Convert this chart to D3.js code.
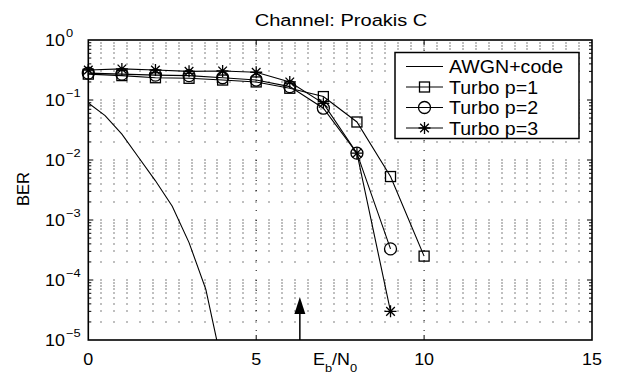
<!DOCTYPE html>
<html>
<head>
<meta charset="utf-8">
<script src="https://cdn.jsdelivr.net/npm/d3@7"></script>
<style>
  body { margin: 0; background: #fff; }
  svg { display: block; font-family: "Liberation Sans", Arial, sans-serif; }
</style>
</head>
<body>
<div id="chart"></div>
<script>
// data
const ebno = [0, 1, 2, 3, 4, 5, 6, 7, 8, 9, 10];
const awgnX = [0, 0.5, 1, 1.5, 2, 2.5, 3, 3.5, 4];
const awgnBer = [0.089, 0.055, 0.027, 0.011, 0.0045, 0.0017, 4.2e-4, 7e-5, 3.5e-6];
const turboP1 = [0.27, 0.255, 0.235, 0.23, 0.215, 0.2, 0.157, 0.114, 0.043, 0.0053, 2.5e-4];
const turboP2 = [0.28, 0.27, 0.26, 0.255, 0.235, 0.215, 0.167, 0.073, 0.013, 3.3e-4];
const turboP3 = [0.316, 0.33, 0.316, 0.30, 0.305, 0.29, 0.2, 0.088, 0.013, 3.0e-5];
const xTicks = [0, 5, 10, 15];
const yDecades = [0, -1, -2, -3, -4, -5];
const arrowX = 6.3;
const arrowTop = 5e-5;
const legendLabels = ["AWGN+code", "Turbo p=1", "Turbo p=2", "Turbo p=3"];

const W = 626, H = 374;
const m = { left: 88.3, right: 34, top: 40, bottom: 34 };
const sx = 1.12; // text in the reference is a bit stretched horizontally

const svg = d3.select("#chart").append("svg")
    .attr("width", W).attr("height", H);

const x = d3.scaleLinear().domain([0, 15]).range([m.left, W - m.right]);
const y = d3.scaleLog().domain([1e-5, 1]).range([H - m.bottom, m.top]);

const defs = svg.append("defs");
defs.append("clipPath").attr("id", "plotclip")
    .append("rect")
    .attr("x", x(0)).attr("y", y(1))
    .attr("width", x(15) - x(0)).attr("height", y(1e-5) - y(1));

// grid: dotted rows at every log step, columns every 5/13 of a unit
const gridCols = d3.range(1, 39).map(i => i * 5 / 13);
const gridRows = [];
for (let k = -5; k < 0; k++) {
    for (let j = 1; j <= 9; j++) {
        if (k === -5 && j === 1) continue;
        gridRows.push(j * Math.pow(10, k));
    }
}
const dots = [];
gridRows.forEach(r => gridCols.forEach(c => dots.push([c, r])));
svg.append("g").selectAll("rect").data(dots).join("rect")
    .attr("x", d => Math.round(x(d[0])) - 0.5)
    .attr("y", d => Math.round(y(d[1])) - 0.5)
    .attr("width", 1).attr("height", 1)
    .attr("fill", "#000");

svg.append("g").selectAll("line").data([5, 10]).join("line")
    .attr("x1", d => x(d)).attr("x2", d => x(d))
    .attr("y1", y(1)).attr("y2", y(1e-5))
    .attr("stroke", "#000").attr("stroke-width", 1)
    .attr("stroke-dasharray", "1,9");

// frame + ticks
svg.append("rect")
    .attr("x", x(0)).attr("y", y(1))
    .attr("width", x(15) - x(0)).attr("height", y(1e-5) - y(1))
    .attr("fill", "none").attr("stroke", "#000").attr("stroke-width", 1.6);

const ticks = svg.append("g").attr("stroke", "#000").attr("stroke-width", 1);
xTicks.slice(1, -1).forEach(t => {
    ticks.append("line").attr("x1", x(t)).attr("x2", x(t)).attr("y1", y(1e-5)).attr("y2", y(1e-5) - 5);
    ticks.append("line").attr("x1", x(t)).attr("x2", x(t)).attr("y1", y(1)).attr("y2", y(1) + 5);
});
gridRows.forEach(r => {
    const len = (Math.abs(Math.log10(r) - Math.round(Math.log10(r))) < 1e-9) ? 5 : 3;
    ticks.append("line").attr("x1", x(0)).attr("x2", x(0) + len).attr("y1", y(r)).attr("y2", y(r));
    ticks.append("line").attr("x1", x(15)).attr("x2", x(15) - len).attr("y1", y(r)).attr("y2", y(r));
});

// tick labels
svg.append("g").selectAll("text").data(xTicks).join("text")
    .attr("transform", d => `translate(${x(d)},365) scale(${sx},1)`)
    .attr("text-anchor", "middle")
    .attr("font-size", 16)
    .text(d => d);

const yl = svg.append("g").selectAll("text").data(yDecades).join("text")
    .attr("transform", d => `translate(45,${y(Math.pow(10, d)) + 5.5}) scale(${sx},1)`)
    .attr("font-size", 16);
yl.append("tspan").text("10");
yl.append("tspan").attr("dy", -9).attr("dx", 1).attr("font-size", 11.5)
    .text(d => d === 0 ? "0" : "\u2212" + Math.abs(d));

// title and axis labels
svg.append("text")
    .attr("transform", "translate(341,26) scale(1.18,1)")
    .attr("text-anchor", "middle").attr("font-size", 17)
    .text("Channel: Proakis C");

svg.append("text")
    .attr("transform", "translate(28.5,189) rotate(-90)")
    .attr("text-anchor", "middle").attr("font-size", 16.5)
    .text("BER");

const xl = svg.append("text")
    .attr("transform", `translate(313,365) scale(${sx},1)`)
    .attr("font-size", 16);
xl.append("tspan").text("E");
xl.append("tspan").attr("dy", 7).attr("font-size", 11.5).text("b");
xl.append("tspan").attr("dy", -7).text("/N");
xl.append("tspan").attr("dy", 7).attr("font-size", 11.5).text("0");

// curves
const plot = svg.append("g").attr("clip-path", "url(#plotclip)");
const line = d3.line().x(d => x(d[0])).y(d => y(d[1]));

const series = [
    { vals: awgnX.map((v, i) => [v, awgnBer[i]]), marker: null },
    { vals: turboP1.map((v, i) => [ebno[i], v]), marker: "square" },
    { vals: turboP2.map((v, i) => [ebno[i], v]), marker: "circle" },
    { vals: turboP3.map((v, i) => [ebno[i], v]), marker: "star" }
];

function drawMarker(g, type, cx, cy) {
    if (type === "square") {
        g.append("rect").attr("x", cx - 5).attr("y", cy - 5).attr("width", 10).attr("height", 10)
            .attr("fill", "none").attr("stroke", "#000").attr("stroke-width", 1.3);
    } else if (type === "circle") {
        g.append("circle").attr("cx", cx).attr("cy", cy).attr("r", 6)
            .attr("fill", "none").attr("stroke", "#000").attr("stroke-width", 1.3);
    } else if (type === "star") {
        const r = 6, q = 4.3;
        const p = `M${cx - r},${cy}L${cx + r},${cy}M${cx},${cy - r}L${cx},${cy + r}` +
            `M${cx - q},${cy - q}L${cx + q},${cy + q}M${cx - q},${cy + q}L${cx + q},${cy - q}`;
        g.append("path").attr("d", p).attr("fill", "none").attr("stroke", "#000").attr("stroke-width", 1.3);
    }
}

series.forEach(s => {
    plot.append("path").attr("d", line(s.vals))
        .attr("fill", "none").attr("stroke", "#000").attr("stroke-width", 1.1);
});
series.forEach(s => {
    if (!s.marker) return;
    s.vals.forEach(d => drawMarker(svg, s.marker, x(d[0]), y(d[1])));
});

// arrow
svg.append("line")
    .attr("x1", x(arrowX)).attr("x2", x(arrowX))
    .attr("y1", y(1e-5)).attr("y2", y(arrowTop) + 14)
    .attr("stroke", "#000").attr("stroke-width", 1.5);
svg.append("path")
    .attr("d", `M${x(arrowX)},${y(arrowTop) - 1}L${x(arrowX) - 5.5},${y(arrowTop) + 16}L${x(arrowX) + 5.5},${y(arrowTop) + 16}Z`)
    .attr("fill", "#000");

// legend
const lg = svg.append("g").attr("transform", "translate(395,52.5)");
lg.append("rect").attr("width", 184).attr("height", 86)
    .attr("fill", "#fff").attr("stroke", "#000").attr("stroke-width", 1.5);
legendLabels.forEach((lab, i) => {
    const ly = 14 + i * 20.5;
    lg.append("line").attr("x1", 11).attr("x2", 48).attr("y1", ly).attr("y2", ly)
        .attr("stroke", "#000").attr("stroke-width", 1.1);
    drawMarker(lg, series[i].marker, 29.5, ly);
    lg.append("text")
        .attr("transform", `translate(54,${ly + 6.5}) scale(${sx},1)`)
        .attr("font-size", 17.5)
        .text(lab);
});
</script>
</body>
</html>
